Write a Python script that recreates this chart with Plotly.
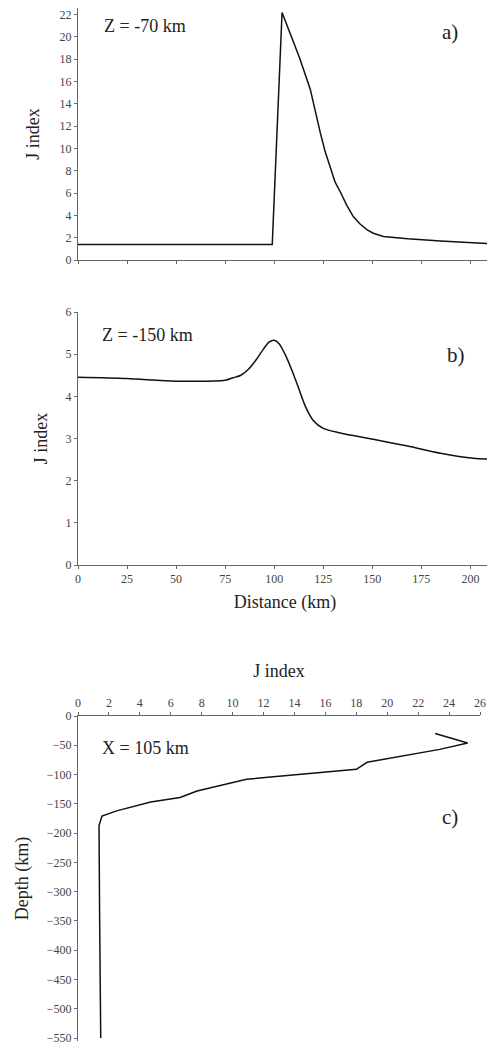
import plotly.graph_objects as go

# Panel a) Z = -70 km
dist_a = [0, 50, 99, 104, 109, 113, 118.4, 120.9, 123.5, 126, 128.6, 131, 133.7, 137, 140.3, 143.9,
          147.4, 150.5, 155.6, 162, 168, 184.7, 200, 211]
j_a = [1.4, 1.4, 1.4, 22.2, 19.9, 18.1, 15.3, 13.3, 11.4, 9.7, 8.4, 7.0, 6.1, 4.9, 3.9, 3.2,
       2.7, 2.4, 2.1, 1.97, 1.9, 1.7, 1.55, 1.45]

# Panel b) Z = -150 km
dist_b = [0, 25, 50, 75, 79, 83, 87, 91, 94.5, 97.5, 100, 102.5, 105.5, 109, 112, 116, 120, 125,
          133.7, 150.5, 168, 184.7, 201.5, 211]
j_b = [4.45, 4.42, 4.36, 4.38, 4.44, 4.5, 4.65, 4.88, 5.12, 5.29, 5.33, 5.25, 5.0, 4.62, 4.25, 3.75,
       3.42, 3.24, 3.13, 2.98, 2.82, 2.65, 2.53, 2.51]

# Panel c) X = 105 km
j_c = [23.1, 25.2, 23.4, 18.7, 18.0, 12.6, 10.9, 7.7, 6.6, 4.7, 2.5, 1.55, 1.36, 1.4, 1.47]
depth_c = [-30, -46, -57, -79, -91, -103, -108, -128, -139, -147, -162, -171, -187, -350, -550]

# page body keeps its default 8px margin, so the figure is 8px smaller
OFF = 8
W, H = 495 - OFF, 1047 - OFF
serif = 'Liberation Serif'
axcol = '#666666'

# page pixel -> paper fraction
def px(x):
    return (x - OFF) / W

def py(y):
    return 1 - (y - OFF) / H

line = dict(color='#111111', width=1.5)

fig = go.Figure()
fig.add_trace(go.Scatter(x=dist_a, y=j_a, mode='lines', line=line, xaxis='x', yaxis='y'))
fig.add_trace(go.Scatter(x=dist_b, y=j_b, mode='lines', line=dict(shape='spline', smoothing=0.8, **line),
                         xaxis='x2', yaxis='y2'))
fig.add_trace(go.Scatter(x=j_c, y=depth_c, mode='lines', line=line, xaxis='x3', yaxis='y3'))

common = dict(showgrid=False, zeroline=False, showline=True, linecolor=axcol, linewidth=1,
              ticks='outside', ticklen=3, tickcolor=axcol, automargin=False,
              ticklabeloverflow='allow',
              tickfont=dict(family=serif, size=12, color='#444444'))

fig.update_layout(
    width=W, height=H, showlegend=False,
    plot_bgcolor='white', paper_bgcolor='white',
    margin=dict(l=0, r=0, t=0, b=0, autoexpand=False),
    font=dict(family=serif, color='#222222'),
    xaxis=dict(domain=[px(78), px(492)], range=[0, 211], dtick=25, showticklabels=False,
               anchor='y', **common),
    yaxis=dict(domain=[py(260), py(8)], range=[0, 22.6], dtick=2, anchor='x',
               title=dict(text='J index', font=dict(size=18), standoff=15), **common),
    xaxis2=dict(domain=[px(78), px(492)], range=[0, 211], dtick=25, anchor='y2',
                title=dict(text='Distance (km)', font=dict(size=18), standoff=9), **common),
    yaxis2=dict(domain=[py(565), py(312)], range=[0, 6], dtick=1, anchor='x2',
                title=dict(text='J index', font=dict(size=18), standoff=13), **common),
    xaxis3=dict(domain=[px(78), px(480)], range=[0, 26], dtick=2, anchor='y3', side='top',
                title=dict(text='J index', font=dict(size=18), standoff=13), **common),
    yaxis3=dict(domain=[py(1041), py(716)], range=[-555, 0], dtick=50, anchor='x3',
                title=dict(text='Depth (km)', font=dict(size=18), standoff=13), **common),
)

notes = [
    ('Z = -70 km', 102, 26, 18),
    ('a)', 440, 32, 21),
    ('Z = -150 km', 100, 335, 18),
    ('b)', 445, 355, 21),
    ('X = 105 km', 100, 748, 18),
    ('c)', 440, 817, 21),
]
for text, x, y, size in notes:
    fig.add_annotation(text=text, xref='paper', yref='paper', x=px(x), y=py(y),
                       xanchor='left', yanchor='middle', showarrow=False,
                       font=dict(family=serif, size=size, color='#222222'))

fig.write_html("out.html")
